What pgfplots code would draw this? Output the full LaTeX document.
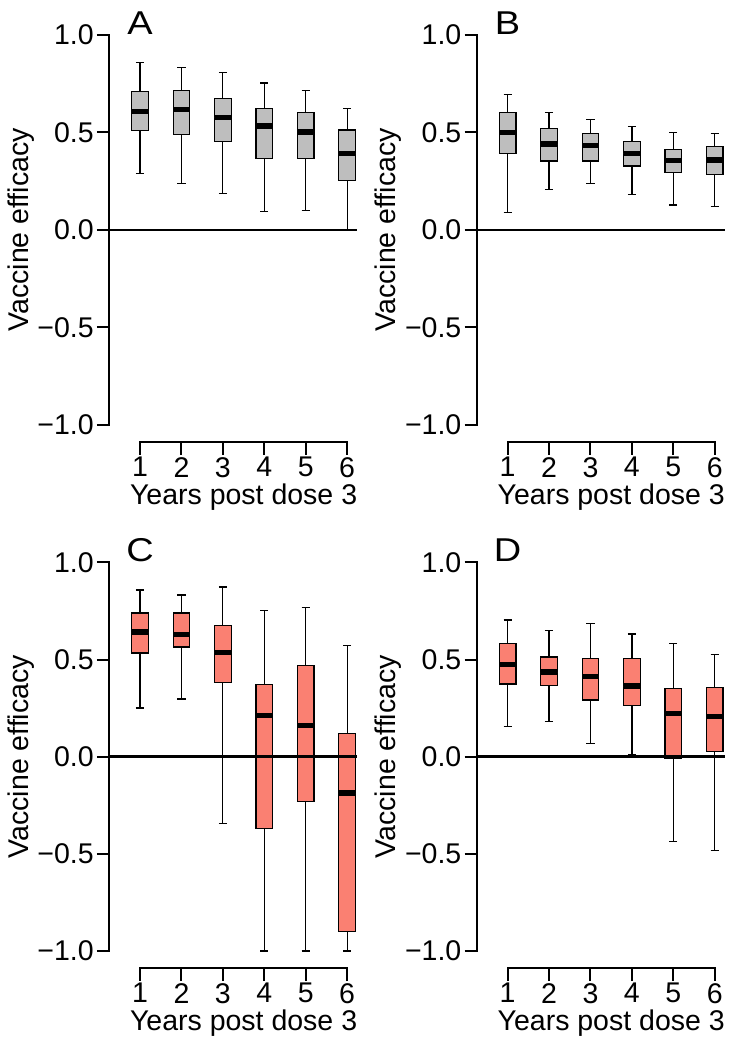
\documentclass[border=0pt]{standalone}
\usepackage{pgfplots}
\pgfplotsset{compat=1.18}
\usepgfplotslibrary{statistics}
\usepackage{fontspec}
\setmainfont{Liberation Sans}
\definecolor{boxgray}{HTML}{BEBEBE}
\definecolor{salmon}{HTML}{FA8072}
\newcommand\bigfont{\fontsize{28.5}{34}\selectfont}
\newcommand\letterfont{\fontsize{33}{38}\selectfont}

\pgfplotsset{
  panel/.style={
    scale only axis,
    width=247.7pt,
    xmin=0.26, xmax=6.24, ymin=-1, ymax=1,
    clip=false,
    axis y line*=left, axis x line*=bottom,
    axis x line shift=17.5pt,
    x axis line style={draw=none},
    y axis line style={-, line width=2pt, line cap=rect},
    tick align=outside,
    major tick length=12.5pt,
    tick style={line width=2pt, black},
    xtick={1,2,3,4,5,6},
    xticklabels={1,2,3,4,5,6},
    ytick={-1,-0.5,0,0.5,1},
    yticklabels={−1.0,−0.5,0.0,0.5,1.0},
    ticklabel style={font=\bigfont},
    yticklabel style={inner sep=0pt, xshift=-3pt},
    xticklabel style={inner sep=0pt, yshift=-2pt},
    label style={font=\bigfont},
    xlabel={Years post dose 3},
    ylabel={Vaccine efficacy},
    xlabel style={at={(axis cs:3.5,-1)}, anchor=center, yshift=-72pt},
    ylabel style={at={(axis description cs:-0.3573,0.5)}, anchor=center},
    boxplot/draw direction=y,
    boxplot/box extend=0.4,
    boxplot/whisker extend=0.2,
  },
  bx/.style={line width=1.2pt, draw=black, boxplot/every median/.style={line width=5.5pt}},
}

\newcommand\spine{\draw[line width=2pt, line cap=rect] ([yshift=-17.5pt]axis cs:1,-1) -- ([yshift=-17.5pt]axis cs:6,-1);}
\newcommand\letter[1]{\node[font=\letterfont, anchor=base, xscale=1.15, yshift=0.5pt] at (axis cs:1,1) {#1};}

\begin{document}
\begin{tikzpicture}
\path[use as bounding box] (0,0) rectangle (741pt,1050pt);

% Panel A
\begin{axis}[panel, at={(109.4pt,625pt)}, anchor=south west, height=390.3pt]
\addplot[bx, fill=boxgray, boxplot prepared={draw position=1, median=0.607, upper quartile=0.708, lower quartile=0.511, upper whisker=0.859, lower whisker=0.288}] coordinates {};
\addplot[bx, fill=boxgray, boxplot prepared={draw position=2, median=0.617, upper quartile=0.715, lower quartile=0.490, upper whisker=0.831, lower whisker=0.237}] coordinates {};
\addplot[bx, fill=boxgray, boxplot prepared={draw position=3, median=0.576, upper quartile=0.674, lower quartile=0.451, upper whisker=0.807, lower whisker=0.185}] coordinates {};
\addplot[bx, fill=boxgray, boxplot prepared={draw position=4, median=0.531, upper quartile=0.622, lower quartile=0.367, upper whisker=0.752, lower whisker=0.093}] coordinates {};
\addplot[bx, fill=boxgray, boxplot prepared={draw position=5, median=0.502, upper quartile=0.602, lower quartile=0.365, upper whisker=0.715, lower whisker=0.099}] coordinates {};
\addplot[bx, fill=boxgray, boxplot prepared={draw position=6, median=0.391, upper quartile=0.512, lower quartile=0.254, upper whisker=0.622, lower whisker=0.000}] coordinates {};
\addplot[line width=2.5pt, black] coordinates {(0.26,0) (6.24,0)};
\spine
\letter{A}
\end{axis}

% Panel B
\begin{axis}[panel, at={(477pt,625pt)}, anchor=south west, height=390.3pt]
\addplot[bx, fill=boxgray, boxplot prepared={draw position=1, median=0.499, upper quartile=0.600, lower quartile=0.391, upper whisker=0.692, lower whisker=0.087}] coordinates {};
\addplot[bx, fill=boxgray, boxplot prepared={draw position=2, median=0.439, upper quartile=0.519, lower quartile=0.353, upper whisker=0.602, lower whisker=0.206}] coordinates {};
\addplot[bx, fill=boxgray, boxplot prepared={draw position=3, median=0.432, upper quartile=0.492, lower quartile=0.353, upper whisker=0.564, lower whisker=0.237}] coordinates {};
\addplot[bx, fill=boxgray, boxplot prepared={draw position=4, median=0.391, upper quartile=0.452, lower quartile=0.327, upper whisker=0.531, lower whisker=0.180}] coordinates {};
\addplot[bx, fill=boxgray, boxplot prepared={draw position=5, median=0.356, upper quartile=0.413, lower quartile=0.295, upper whisker=0.499, lower whisker=0.127}] coordinates {};
\addplot[bx, fill=boxgray, boxplot prepared={draw position=6, median=0.358, upper quartile=0.427, lower quartile=0.283, upper whisker=0.492, lower whisker=0.120}] coordinates {};
\addplot[line width=2.5pt, black] coordinates {(0.26,0) (6.24,0)};
\spine
\letter{B}
\end{axis}

% Panel C
\begin{axis}[panel, at={(109.4pt,99pt)}, anchor=south west, height=388.5pt]
\addplot[bx, fill=salmon, boxplot prepared={draw position=1, median=0.642, upper quartile=0.740, lower quartile=0.534, upper whisker=0.858, lower whisker=0.251}] coordinates {};
\addplot[bx, fill=salmon, boxplot prepared={draw position=2, median=0.630, upper quartile=0.740, lower quartile=0.565, upper whisker=0.833, lower whisker=0.297}] coordinates {};
\addplot[bx, fill=salmon, boxplot prepared={draw position=3, median=0.537, upper quartile=0.676, lower quartile=0.383, upper whisker=0.874, lower whisker=-0.345}] coordinates {};
\addplot[bx, fill=salmon, boxplot prepared={draw position=4, median=0.213, upper quartile=0.373, lower quartile=-0.371, upper whisker=0.754, lower whisker=-1.0}] coordinates {};
\addplot[bx, fill=salmon, boxplot prepared={draw position=5, median=0.160, upper quartile=0.470, lower quartile=-0.232, upper whisker=0.769, lower whisker=-1.0}] coordinates {};
\addplot[bx, fill=salmon, boxplot prepared={draw position=6, median=-0.187, upper quartile=0.118, lower quartile=-0.901, upper whisker=0.572, lower whisker=-1.0}] coordinates {};
\addplot[line width=2.5pt, black] coordinates {(0.26,0) (6.24,0)};
\spine
\letter{C}
\end{axis}

% Panel D
\begin{axis}[panel, at={(477pt,99pt)}, anchor=south west, height=388.5pt]
\addplot[bx, fill=salmon, boxplot prepared={draw position=1, median=0.476, upper quartile=0.581, lower quartile=0.375, upper whisker=0.704, lower whisker=0.155}] coordinates {};
\addplot[bx, fill=salmon, boxplot prepared={draw position=2, median=0.436, upper quartile=0.514, lower quartile=0.368, upper whisker=0.651, lower whisker=0.180}] coordinates {};
\addplot[bx, fill=salmon, boxplot prepared={draw position=3, median=0.412, upper quartile=0.507, lower quartile=0.292, upper whisker=0.684, lower whisker=0.069}] coordinates {};
\addplot[bx, fill=salmon, boxplot prepared={draw position=4, median=0.364, upper quartile=0.507, lower quartile=0.265, upper whisker=0.632, lower whisker=0.009}] coordinates {};
\addplot[bx, fill=salmon, boxplot prepared={draw position=5, median=0.222, upper quartile=0.351, lower quartile=-0.009, upper whisker=0.581, lower whisker=-0.435}] coordinates {};
\addplot[bx, fill=salmon, boxplot prepared={draw position=6, median=0.208, upper quartile=0.356, lower quartile=0.029, upper whisker=0.527, lower whisker=-0.481}] coordinates {};
\addplot[line width=2.5pt, black] coordinates {(0.26,0) (6.24,0)};
\spine
\letter{D}
\end{axis}
\end{tikzpicture}
\end{document}
